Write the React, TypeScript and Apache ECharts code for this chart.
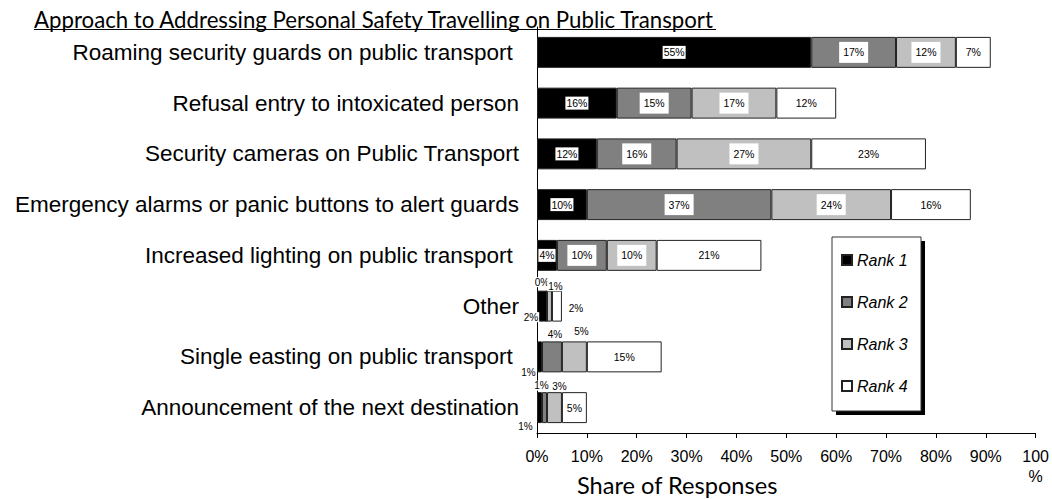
import React, { useEffect, useRef } from "react";
import * as echarts from "echarts";

const categories = [
  "Roaming security guards on public transport ",
  "Refusal entry to intoxicated person",
  "Security cameras on Public Transport",
  "Emergency alarms or panic buttons to alert guards",
  "Increased lighting on public transport ",
  "Other",
  "Single easting on public transport ",
  "Announcement of the next destination",
];
const seriesNames = ["Rank 1", "Rank 2", "Rank 3", "Rank 4"];
const rank1 = [55, 16, 12, 10, 4, 2, 1, 1];
const rank2 = [17, 15, 16, 37, 10, 0, 4, 1];
const rank3 = [12, 17, 27, 24, 10, 1, 5, 3];
const rank4 = [7, 12, 23, 16, 21, 2, 15, 5];
const titleText = "Approach to Addressing Personal Safety Travelling on Public Transport";
const axisTitle = "Share of Responses";

const colors = ["#000000", "#808080", "#c0c0c0", "#ffffff"];
const labelPads = [[1, 1], [5, 4], [5, 4], [2, 2]];
// label nudges for tiny segments: "series-dataIndex" -> [dx, dy]
const labelNudges: Record<string, [number, number]> = {
  "0-5": [-11, 11], "1-5": [-5, -24], "2-5": [6, -20], "3-5": [19, 2],
  "0-6": [-11, 16], "1-6": [3, -22], "2-6": [7, -25],
  "0-7": [-14, 19], "1-7": [-3, -22], "2-7": [5, -21],
};

function fitFont(text: string, family: string, target: number) {
  const ctx = document.createElement("canvas").getContext("2d");
  if (!ctx) return 20;
  ctx.font = `100px ${family}`;
  const w = ctx.measureText(text).width;
  return w > 0 ? (100 * target) / w : 20;
}

export default function App() {
  const ref = useRef<HTMLDivElement>(null);
  useEffect(() => {
    if (!ref.current) return;
    const chart = echarts.init(ref.current, null, { renderer: "svg" });
    const sans = "'Liberation Sans', Arial, sans-serif";
    const cal = "Lato, 'Open Sans', sans-serif";
    const titleSize = fitFont(titleText, "Lato", 682);
    const nameSize = fitFont(axisTitle, "Lato", 201);
    const all = [rank1, rank2, rank3, rank4];
    const series = all.map((vals, si) => ({
      name: seriesNames[si],
      type: "bar",
      stack: "total",
      barWidth: "61%",
      itemStyle: { color: colors[si], borderColor: "#222", borderWidth: 1 },
      label: {
        show: true,
        position: "inside",
        formatter: "{c}%",
        fontSize: 10.5,
        fontFamily: sans,
        color: "#000",
        textBorderWidth: 0,
        textBorderColor: "transparent",
        backgroundColor: "#fff",
        padding: labelPads[si],
      },
      data: vals.map((v, di) => {
        const n = labelNudges[`${si}-${di}`];
        if (!n) return v;
        return { value: v, label: { offset: n, padding: [0, 1], fontSize: 10 } };
      }),
    }));
    chart.setOption({
      animation: false,
      grid: { left: 537, right: 16, top: 27, bottom: 66, containLabel: false },
      xAxis: {
        type: "value",
        min: 0,
        max: 100,
        interval: 10,
        axisLine: { show: true, lineStyle: { color: "#000", width: 1 } },
        axisTick: { show: true, length: 5, lineStyle: { color: "#000" } },
        splitLine: { show: false },
        axisLabel: {
          color: "#000",
          fontSize: 16,
          fontFamily: sans,
          margin: 13,
          lineHeight: 20,
          formatter: (v: number) => (v === 100 ? "100\n%" : v + "%"),
        },
      },
      yAxis: {
        type: "category",
        inverse: true,
        data: categories,
        axisLine: { show: true, lineStyle: { color: "#000", width: 1 } },
        axisTick: { show: false },
        axisLabel: { color: "#000", fontSize: 22.5, fontFamily: sans, margin: 18 },
      },
      legend: {
        data: seriesNames,
        orient: "vertical",
        left: 841,
        top: 252,
        itemGap: 26,
        itemWidth: 10,
        itemHeight: 10,
        icon: "rect",
        padding: 0,
        selectedMode: false,
        textStyle: { fontSize: 16, fontStyle: "italic", fontFamily: sans, color: "#000" },
        z: 10,
      },
      graphic: [
        { type: "rect", z: 5, shape: { x: 836, y: 241, width: 89, height: 174 }, style: { fill: "#000" } },
        { type: "rect", z: 6, shape: { x: 832, y: 237, width: 89, height: 174 }, style: { fill: "#fff", stroke: "#333", lineWidth: 1 } },
        { type: "text", x: 34, y: 19, style: { text: titleText, font: `${titleSize}px ${cal}`, fill: "#000", verticalAlign: "middle", align: "left" } },
        { type: "line", shape: { x1: 34, y1: 29.5, x2: 716, y2: 29.5 }, style: { stroke: "#000", lineWidth: 1 } },
        { type: "text", x: 577, y: 485, style: { text: axisTitle, font: `${nameSize}px ${cal}`, fill: "#000", verticalAlign: "middle", align: "left" } },
      ],
      series,
    });
    return () => chart.dispose();
  }, []);
  return <div ref={ref} style={{ position: "fixed", left: 0, top: 0, width: 1052, height: 499, background: "#fff" }} />;
}
